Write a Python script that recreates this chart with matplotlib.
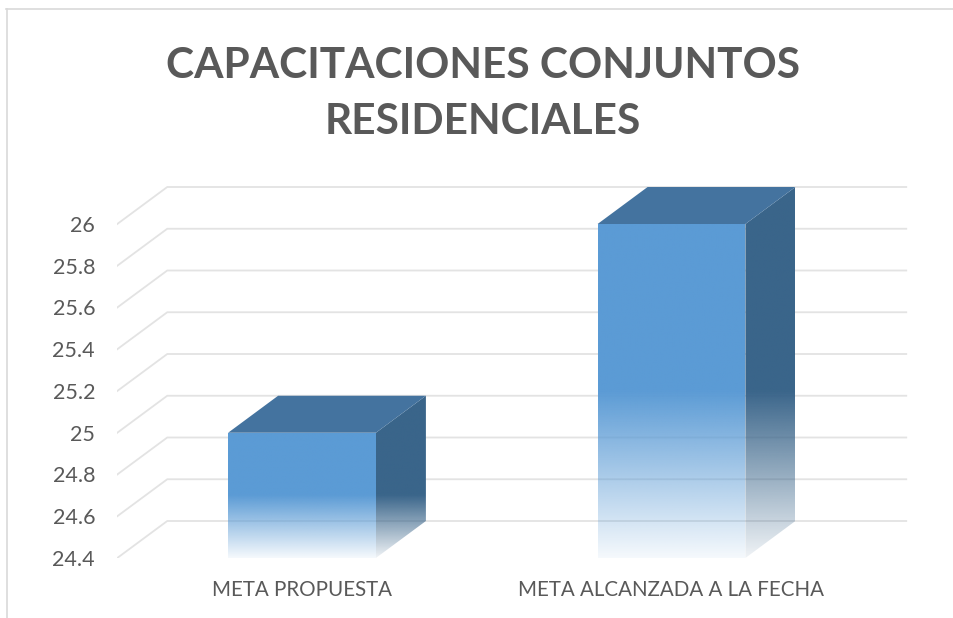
import numpy as np
import matplotlib
matplotlib.use("Agg")
import matplotlib.pyplot as plt
from matplotlib.patches import Polygon
from matplotlib.lines import Line2D

# data
categories = ["META PROPUESTA", "META ALCANZADA A LA FECHA"]
values = [25, 26]
yticks = [24.4, 24.6, 24.8, 25.0, 25.2, 25.4, 25.6, 25.8, 26.0]
title = "CAPACITACIONES CONJUNTOS\nRESIDENCIALES"

plt.rcParams['font.family'] = ['Lato', 'DejaVu Sans']

W, H = 954, 618
fig = plt.figure(figsize=(W / 100, H / 100), dpi=100)

# front plane: x -0.5..1.5 -> px 117..856, y 24.4..26 -> px 558..224
ymin, ymax = 24.4, 26.4
xmin, xmax = -0.5, 1.7
px_x = 369.5      # px per category
px_y = 208.75     # px per y unit
left = 117.25
bottom = H - 558
ax = fig.add_axes([left / W, bottom / H,
                   (xmax - xmin) * px_x / W, (ymax - ymin) * px_y / H])
ax.set_xlim(xmin, xmax)
ax.set_ylim(ymin, ymax)

DX = 50 / px_x    # depth offset
DY = 37 / px_y
bw = 0.40
grid_c = '#E3E3E3'
txt_c = '#595959'
front_c = '#5B9BD5'
top_c = '#44739F'
side_c = '#3A658A'

# walls gridlines
for t in yticks:
    ax.plot([-0.5, -0.5 + DX, 1.5 + DX], [t, t + DY, t + DY],
            color=grid_c, lw=1.3, zorder=1, solid_joinstyle='miter')


def fade(color, y0, y1, ybar, ny=300, amin=0.06):
    # solid on top half of the bar, fading to almost clear at the bottom
    ys = np.linspace(y0, y1, ny)
    tt = (ys - ymin) / (ybar - ymin)
    img = np.zeros((ny, 1, 4))
    img[:, 0, :3] = matplotlib.colors.to_rgb(color)
    img[:, 0, 3] = np.clip(amin + (1 - amin) * tt / 0.5, 0, 1)
    return img


for i, v in enumerate(values):
    x0, x1 = i - bw / 2, i + bw / 2
    # front face
    fr = Polygon([(x0, ymin), (x1, ymin), (x1, v), (x0, v)], closed=True,
                 fc='none', ec='none')
    ax.add_patch(fr)
    im = ax.imshow(fade(front_c, ymin, v, v), extent=[x0, x1, ymin, v],
                   origin='lower', aspect='auto', interpolation='bilinear', zorder=3)
    im.set_clip_path(fr)
    # side face
    sd = Polygon([(x1, ymin), (x1 + DX, ymin + DY), (x1 + DX, v + DY), (x1, v)],
                 closed=True, fc='none', ec='none')
    ax.add_patch(sd)
    im2 = ax.imshow(fade(side_c, ymin, v + DY, v, amin=0.08),
                    extent=[x1, x1 + DX, ymin, v + DY], origin='lower',
                    aspect='auto', interpolation='bilinear', zorder=3)
    im2.set_clip_path(sd)
    # top face
    ax.add_patch(Polygon([(x0, v), (x1, v), (x1 + DX, v + DY), (x0 + DX, v + DY)],
                         closed=True, fc=top_c, ec='none', zorder=4))

ax.set_xlim(xmin, xmax)
ax.set_ylim(ymin, ymax)
for s in ax.spines.values():
    s.set_visible(False)
ax.set_yticks(yticks)
ax.set_yticklabels([f"{t:g}" for t in yticks])
ax.set_xticks(range(len(categories)))
ax.set_xticklabels(categories)
ax.tick_params(axis='y', length=0, pad=16, labelsize=15.5, labelcolor=txt_c)
ax.tick_params(axis='x', length=0, pad=16, labelsize=14.8, labelcolor=txt_c)

fig.text(483 / W, 1 - 94 / H, title, ha='center', va='center', fontsize=30.5,
         fontweight='bold', color=txt_c, linespacing=1.6)

# outer border (partly cropped)
fig.add_artist(Line2D([6 / W, 1], [1 - 9 / H, 1 - 9 / H], color='#D9D9D9', lw=1.2))
fig.add_artist(Line2D([7 / W, 7 / W], [0, 1 - 9 / H], color='#D9D9D9', lw=1.2))

fig.savefig("out.png", dpi=100)
